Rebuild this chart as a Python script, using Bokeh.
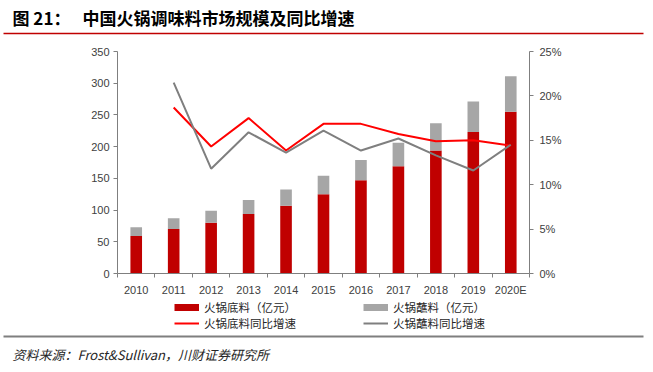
from bokeh.plotting import figure
from bokeh.layouts import column
from bokeh.models import (Range1d, LinearAxis, FixedTicker, NumeralTickFormatter,
                          Legend, LegendItem, Label, BoxAnnotation, ColumnDataSource)
from bokeh.embed import file_html
from bokeh.resources import INLINE

years = ["2010", "2011", "2012", "2013", "2014", "2015", "2016", "2017", "2018", "2019", "2020E"]
base = [59, 70, 80, 94, 107, 125, 147, 169, 194, 223, 255]
dip = [14, 17, 19, 22, 25.5, 29, 32, 37, 43, 48, 56]
base_growth = [None, 0.187, 0.143, 0.175, 0.1385, 0.1685, 0.1685, 0.157, 0.149, 0.150, 0.144]
dip_growth = [None, 0.215, 0.118, 0.159, 0.136, 0.161, 0.1385, 0.152, 0.133, 0.116, 0.145]
series_names = ["火锅底料（亿元）", "火锅蘸料（亿元）", "火锅底料同比增速", "火锅蘸料同比增速"]
title_num = "图 21："
title_text = "中国火锅调味料市场规模及同比增速"
source_text = "资料来源：Frost&Sullivan，川财证券研究所"

C_BASE = "#C00000"
C_DIP = "#A6A6A6"
C_LBASE = "#FF0000"
C_LDIP = "#7F7F7F"

idx = list(range(len(years)))
total = [b + d for b, d in zip(base, dip)]

W = 653
BL, BR = 117, 124
H1, H2, H3 = 44, 255, 73
CJK = "Noto Sans CJK SC"


def blank_fig(h):
    f = figure(width=W, height=h, output_backend="svg", toolbar_location=None,
               x_range=Range1d(0, 1), y_range=Range1d(0, 1),
               x_axis_location=None, y_axis_location=None, frame_align=False,
               min_border_left=0, min_border_right=0,
               min_border_top=0, min_border_bottom=0)
    f.xgrid.visible = False
    f.ygrid.visible = False
    f.outline_line_color = None
    return f


def hline(f, y0, y1, color):
    f.add_layout(BoxAnnotation(left=3, right=643, bottom=y0, top=y1,
                               left_units="screen", right_units="screen",
                               bottom_units="screen", top_units="screen",
                               fill_color=color, fill_alpha=1, line_color=None))


# ---- title strip (y 0..44)
ft = blank_fig(H1)
ft.add_layout(Label(x=12, y=15, x_units="screen", y_units="screen",
                    text=title_num, text_font=CJK, text_font_style="bold",
                    text_font_size="17px", text_color="#000000", text_baseline="bottom"))
ft.add_layout(Label(x=82, y=15, x_units="screen", y_units="screen",
                    text=title_text, text_font=CJK, text_font_style="bold",
                    text_font_size="17px", text_color="#000000", text_baseline="bottom"))
hline(ft, 10.25, 11.75, C_BASE)

# ---- main chart (y 44..299)
p = figure(width=W, height=H2, output_backend="svg", toolbar_location=None, frame_align=False,
           x_range=Range1d(-0.5, len(years) - 0.5), y_range=Range1d(0, 350),
           min_border_left=BL, min_border_right=BR, min_border_top=7, min_border_bottom=26)
p.extra_y_ranges = {"pct": Range1d(0, 0.25)}
p.xgrid.visible = False
p.ygrid.visible = False
p.outline_line_color = None

src = ColumnDataSource(dict(x=idx, base=base, total=total))
p.vbar(x="x", top="base", bottom=0, width=0.31, source=src, fill_color=C_BASE, line_color=None)
p.vbar(x="x", top="total", bottom="base", width=0.31, source=src, fill_color=C_DIP, line_color=None)

xs_b = [i for i, g in zip(idx, base_growth) if g is not None]
ys_b = [g for g in base_growth if g is not None]
xs_d = [i for i, g in zip(idx, dip_growth) if g is not None]
ys_d = [g for g in dip_growth if g is not None]
p.line(xs_b, ys_b, y_range_name="pct", line_color=C_LBASE, line_width=2)
p.line(xs_d, ys_d, y_range_name="pct", line_color=C_LDIP, line_width=2)

axis_color = "#7F7F7F"
label_font = "Liberation Sans"
lbl_color = "#404040"

xa = p.xaxis[0]
xa.ticker = FixedTicker(ticks=idx, minor_ticks=[i - 0.5 for i in idx] + [len(years) - 0.5])
xa.major_label_overrides = {i: y for i, y in enumerate(years)}
xa.major_tick_line_color = None
xa.minor_tick_in = 0
xa.minor_tick_out = 4
xa.minor_tick_line_color = axis_color
xa.axis_line_color = axis_color
xa.major_label_text_font = label_font
xa.major_label_text_font_size = "11px"
xa.major_label_text_color = lbl_color
xa.major_label_standoff = 4

ya = p.yaxis[0]
ya.ticker = FixedTicker(ticks=[0, 50, 100, 150, 200, 250, 300, 350])
ya.axis_line_color = axis_color
ya.major_tick_line_color = axis_color
ya.major_tick_in = 0
ya.major_tick_out = 4
ya.minor_tick_line_color = None
ya.major_label_text_font = label_font
ya.major_label_text_font_size = "11px"
ya.major_label_text_color = lbl_color
ya.major_label_standoff = 4

ra = LinearAxis(y_range_name="pct", ticker=FixedTicker(ticks=[0, 0.05, 0.10, 0.15, 0.20, 0.25]),
                formatter=NumeralTickFormatter(format="0%"))
ra.axis_line_color = axis_color
ra.major_tick_line_color = axis_color
ra.major_tick_in = 0
ra.major_tick_out = 4
ra.minor_tick_line_color = None
ra.major_label_text_font = label_font
ra.major_label_text_font_size = "11px"
ra.major_label_text_color = lbl_color
ra.major_label_standoff = 6
p.add_layout(ra, "right")

# ---- legend + source strip (y 299..372)
fb = blank_fig(H3)
nan = float("nan")
pb = fb.line([nan], [nan], line_color=C_BASE, line_width=7)
pd_ = fb.line([nan], [nan], line_color=C_DIP, line_width=7)
plb = fb.line([nan], [nan], line_color=C_LBASE, line_width=2)
pld = fb.line([nan], [nan], line_color=C_LDIP, line_width=2)
legend = Legend(items=[LegendItem(label=n, renderers=[r]) for n, r in zip(series_names, [pb, pd_, plb, pld])],
                ncols=2, location=(174, 41), orientation="horizontal")
legend.label_text_font = CJK
legend.label_text_font_size = "11.5px"
legend.label_text_color = "#262626"
legend.glyph_width = 25
legend.glyph_height = 16
legend.label_height = 16
legend.label_standoff = 5
legend.label_width = 159
legend.spacing = 0
legend.padding = 0
legend.margin = 0
legend.border_line_color = None
legend.background_fill_alpha = 0
fb.add_layout(legend, "center")
hline(fb, 35, 37, C_LDIP)
fb.add_layout(Label(x=12, y=18, x_units="screen", y_units="screen",
                    text=source_text, text_font=CJK, text_font_style="italic",
                    text_font_size="13px", text_color="#262626", text_baseline="alphabetic"))

layout = column(ft, p, fb, spacing=0)
open("out.html", "w").write(file_html(layout, INLINE))
